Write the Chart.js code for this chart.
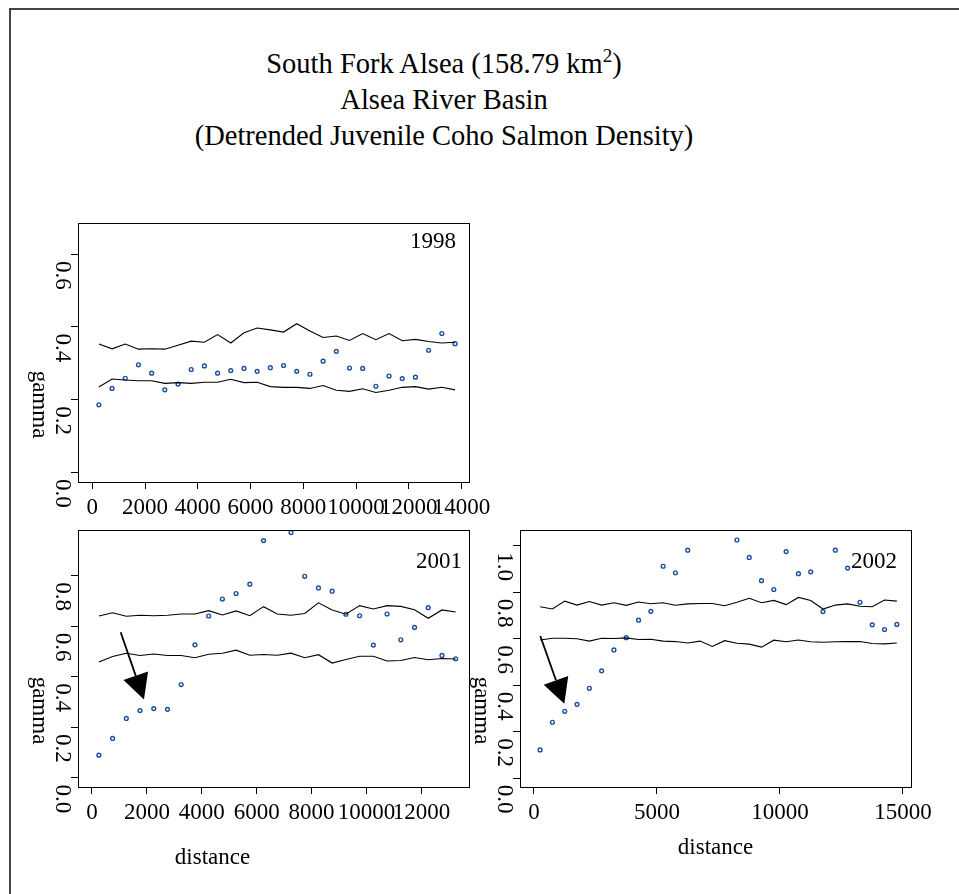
<!DOCTYPE html>
<html>
<head>
<meta charset="utf-8">
<script src="https://cdn.jsdelivr.net/npm/chart.js@4.4.1/dist/chart.umd.min.js"></script>
<style>
  body { margin: 0; background: #fff; width: 959px; height: 894px; overflow: hidden; position: relative;
         font-family: "Liberation Serif", "Times New Roman", serif; }
  .frame { position: absolute; left: 9px; top: 8px; width: 960px; height: 900px;
           border-top: 2px solid #444; border-left: 2px solid #444; }
  .title { position: absolute; left: 0; top: 46px; width: 888px; text-align: center;
           font-size: 28.5px; line-height: 36px; color: #000; }
  .title sup { font-size: 19px; vertical-align: 11px; line-height: 0; }
  canvas { position: absolute; left: 0; top: 0; }
</style>
</head>
<body>
<div class="frame"></div>
<div class="title">South Fork Alsea (158.79 km<sup>2</sup>)<br>Alsea River Basin<br>(Detrended Juvenile Coho Salmon Density)</div>
<canvas id="c1998" width="959" height="894"></canvas>
<canvas id="c2001" width="959" height="894"></canvas>
<canvas id="c2002" width="959" height="894"></canvas>
<script>
// ---- data ----
const dist1998 = [250, 750, 1250, 1750, 2250, 2750, 3250, 3750, 4250, 4750, 5250, 5750, 6250, 6750,
  7250, 7750, 8250, 8750, 9250, 9750, 10250, 10750, 11250, 11750, 12250, 12750, 13250, 13750];
const gamma1998 = [0.186, 0.231, 0.259, 0.296, 0.273, 0.227, 0.243, 0.283, 0.293, 0.273, 0.280, 0.286, 0.278, 0.288,
  0.294, 0.278, 0.270, 0.306, 0.333, 0.287, 0.286, 0.237, 0.265, 0.258, 0.262, 0.336, 0.382, 0.354];
const upper1998 = [0.353, 0.340, 0.353, 0.339, 0.340, 0.339, 0.350, 0.361, 0.358, 0.379, 0.356, 0.384, 0.397, 0.392,
  0.386, 0.409, 0.389, 0.371, 0.375, 0.363, 0.382, 0.365, 0.382, 0.362, 0.366, 0.360, 0.356, 0.358];
const lower1998 = [0.235, 0.257, 0.254, 0.252, 0.252, 0.245, 0.247, 0.245, 0.248, 0.248, 0.256, 0.247, 0.248, 0.236,
  0.234, 0.234, 0.231, 0.239, 0.226, 0.223, 0.230, 0.220, 0.226, 0.234, 0.236, 0.229, 0.234, 0.227];

const dist2001 = [250, 750, 1250, 1750, 2250, 2750, 3250, 3750, 4250, 4750, 5250, 5750, 6250, 6750,
  7250, 7750, 8250, 8750, 9250, 9750, 10250, 10750, 11250, 11750, 12250, 12750, 13250];
const gamma2001 = [0.090, 0.156, 0.235, 0.266, 0.274, 0.271, 0.369, 0.526, 0.640, 0.707, 0.729, 0.766, 0.938, null,
  0.970, 0.797, 0.751, 0.738, 0.647, 0.641, 0.525, 0.648, 0.546, 0.595, 0.673, 0.484, 0.471];
const upper2001 = [0.640, 0.653, 0.639, 0.643, 0.641, 0.643, 0.648, 0.648, 0.661, 0.644, 0.660, 0.641, 0.677, 0.648,
  0.643, 0.650, 0.692, 0.664, 0.647, 0.681, 0.668, 0.681, 0.678, 0.665, 0.631, 0.664, 0.656];
const lower2001 = [0.458, 0.480, 0.493, 0.484, 0.490, 0.484, 0.484, 0.475, 0.489, 0.493, 0.505, 0.485, 0.488, 0.485,
  0.493, 0.475, 0.487, 0.454, 0.468, 0.481, 0.481, 0.462, 0.464, 0.476, 0.467, 0.472, 0.470];

const dist2002 = [250, 750, 1250, 1750, 2250, 2750, 3250, 3750, 4250, 4750, 5250, 5750, 6250, 6750, 7250,
  7750, 8250, 8750, 9250, 9750, 10250, 10750, 11250, 11750, 12250, 12750, 13250, 13750, 14250, 14750];
const gamma2002 = [0.121, 0.240, 0.287, 0.317, 0.386, 0.461, 0.551, 0.604, 0.679, 0.717, 0.911, 0.883, 0.980, null, null,
  null, 1.024, 0.949, 0.849, 0.811, 0.974, 0.879, 0.887, 0.716, 0.980, 0.903, 0.756, 0.659, 0.639, 0.661];
const upper2002 = [0.737, 0.727, 0.761, 0.744, 0.759, 0.744, 0.754, 0.743, 0.757, 0.750, 0.754, 0.743, 0.749, 0.751, 0.751,
  0.741, 0.756, 0.773, 0.754, 0.764, 0.746, 0.777, 0.764, 0.727, 0.744, 0.749, 0.739, 0.737, 0.766, 0.761];
const lower2002 = [0.594, 0.601, 0.601, 0.599, 0.589, 0.601, 0.600, 0.603, 0.596, 0.597, 0.589, 0.587, 0.581, 0.589, 0.566,
  0.591, 0.580, 0.576, 0.563, 0.593, 0.586, 0.594, 0.586, 0.584, 0.586, 0.587, 0.587, 0.579, 0.577, 0.581];

// tick labels
const xTicks1998 = [0, 2000, 4000, 6000, 8000, 10000, 12000, 14000];
const xTicks2001 = [0, 2000, 4000, 6000, 8000, 10000, 12000];
const xTicks2002 = [0, 5000, 10000, 15000];
const yTicks1998 = [0.0, 0.2, 0.4, 0.6];
const yTicks2001 = [0.0, 0.2, 0.4, 0.6, 0.8];
const yTicks2002 = [0.0, 0.2, 0.4, 0.6, 0.8, 1.0];

// arrows [fromX, fromY, toX, toY] in data units
const arrow2001 = [1044, 0.576, 1893, 0.310];
const arrow2002 = [257, 0.611, 1233, 0.319];

const SERIF = '"Liberation Serif", "Times New Roman", serif';
const FS = 23;
const W = 959, H = 894;

function toXY(xs, ys) {
  return xs.map((x, i) => ({ x: x, y: ys[i] }));
}

function rotText(ctx, txt, x, y) {
  ctx.save();
  ctx.translate(x, y);
  ctx.rotate(Math.PI / 2);
  ctx.fillText(txt, 0, 0);
  ctx.restore();
}

// R-ish decorations: box, rotated y labels, year tag, arrow
const rPanel = {
  id: 'rPanel',
  afterDraw(chart, args, o) {
    const ctx = chart.ctx, a = chart.chartArea;
    const xs = chart.scales.x, ys = chart.scales.y;
    ctx.save();
    ctx.strokeStyle = '#000';
    ctx.lineWidth = 1;
    ctx.strokeRect(Math.round(a.left) + 0.5, Math.round(a.top) + 0.5,
      Math.round(a.right - a.left), Math.round(a.bottom - a.top));

    ctx.fillStyle = '#000';
    ctx.font = FS + 'px ' + SERIF;
    ctx.textAlign = 'center';
    ctx.textBaseline = 'middle';
    o.yTicks.forEach(v => rotText(ctx, v.toFixed(1), a.left - 16, ys.getPixelForValue(v) + 21));
    rotText(ctx, 'gamma', a.left - 39, (a.top + a.bottom) / 2 + 52);

    ctx.textAlign = 'right';
    ctx.fillText(o.year, a.right + o.yearDx, a.top + o.yearDy);

    if (o.xTitle) {
      ctx.textAlign = 'center';
      ctx.fillText('distance', (a.left + a.right) / 2 + o.xTitleDx, a.bottom + o.xTitleDy);
    }

    if (o.arrow) {
      const p0x = xs.getPixelForValue(o.arrow[0]), p0y = ys.getPixelForValue(o.arrow[1]);
      const p1x = xs.getPixelForValue(o.arrow[2]), p1y = ys.getPixelForValue(o.arrow[3]);
      const L = Math.hypot(p1x - p0x, p1y - p0y);
      const ux = (p1x - p0x) / L, uy = (p1y - p0y) / L;
      const hl = 25, hw = 13;
      const bx = p1x - ux * hl, by = p1y - uy * hl;
      ctx.lineWidth = 1.8;
      ctx.beginPath();
      ctx.moveTo(p0x, p0y);
      ctx.lineTo(bx, by);
      ctx.stroke();
      ctx.beginPath();
      ctx.moveTo(p1x, p1y);
      ctx.lineTo(bx - uy * hw, by + ux * hw);
      ctx.lineTo(bx + uy * hw, by - ux * hw);
      ctx.closePath();
      ctx.fill();
    }
    ctx.restore();
  }
};

function makePanel(id, p) {
  const lineDs = (ys) => ({
    data: toXY(p.dist, ys), showLine: true, borderColor: '#000', borderWidth: 1.1,
    pointRadius: 0, tension: 0
  });
  return new Chart(document.getElementById(id), {
    type: 'scatter',
    data: {
      datasets: [
        lineDs(p.upper),
        lineDs(p.lower),
        {
          data: toXY(p.dist, p.gamma), showLine: false, pointRadius: 1.9, pointBorderWidth: 1.4,
          pointBorderColor: '#1b4f9e', pointBackgroundColor: 'rgba(0,0,0,0)', clip: 4
        }
      ]
    },
    options: {
      responsive: false,
      animation: false,
      events: [],
      layout: {
        padding: { left: p.box.left - 10, top: p.box.top, right: W - p.box.right, bottom: H - p.box.bottom - 40 }
      },
      plugins: {
        legend: { display: false },
        tooltip: { enabled: false },
        rPanel: {
          yTicks: p.yTicks, year: p.year, yearDx: p.yearDx, yearDy: p.yearDy,
          xTitle: p.xTitle, xTitleDx: p.xTitleDx, xTitleDy: p.xTitleDy, arrow: p.arrow
        }
      },
      scales: {
        x: {
          type: 'linear', min: p.xr[0], max: p.xr[1], bounds: 'data',
          afterBuildTicks: s => { s.ticks = p.xTicks.map(v => ({ value: v })); },
          afterFit: s => { s.height = 40; },
          ticks: {
            autoSkip: false, maxRotation: 0, minRotation: 0, padding: 5, color: '#000',
            font: { family: SERIF, size: FS }, callback: v => String(v)
          },
          grid: { drawOnChartArea: false, drawTicks: true, tickLength: 7, color: '#000', lineWidth: 1 },
          border: { display: true, color: '#000', width: 1 }
        },
        y: {
          type: 'linear', min: p.yr[0], max: p.yr[1], bounds: 'data',
          afterBuildTicks: s => { s.ticks = p.yTicks.map(v => ({ value: v })); },
          afterFit: s => { s.width = 10; },
          ticks: { display: false },
          grid: { drawOnChartArea: false, drawTicks: true, tickLength: 7, color: '#000', lineWidth: 1 },
          border: { display: true, color: '#000', width: 1 }
        }
      }
    },
    plugins: [rPanel]
  });
}

makePanel('c1998', {
  dist: dist1998, gamma: gamma1998, upper: upper1998, lower: lower1998,
  xr: [-541, 14280], yr: [-0.0264, 0.686], xTicks: xTicks1998, yTicks: yTicks1998,
  box: { left: 78, top: 223, right: 469, bottom: 482 },
  year: '1998', yearDx: -13, yearDy: 19, xTitle: false
});

makePanel('c2001', {
  dist: dist2001, gamma: gamma2001, upper: upper2001, lower: lower2001,
  xr: [-510, 13735], yr: [-0.036, 0.98], xTicks: xTicks2001, yTicks: yTicks2001,
  box: { left: 78, top: 530, right: 469, bottom: 787 },
  year: '2001', yearDx: -7, yearDy: 32, xTitle: true, xTitleDx: -61, xTitleDy: 71,
  arrow: arrow2001
});

makePanel('c2002', {
  dist: dist2002, gamma: gamma2002, upper: upper2002, lower: lower2002,
  xr: [-568, 15326], yr: [-0.0386, 1.067], xTicks: xTicks2002, yTicks: yTicks2002,
  box: { left: 520, top: 530, right: 911, bottom: 787 },
  year: '2002', yearDx: -14, yearDy: 32, xTitle: true, xTitleDx: 0, xTitleDy: 61,
  arrow: arrow2002
});
</script>
</body>
</html>
